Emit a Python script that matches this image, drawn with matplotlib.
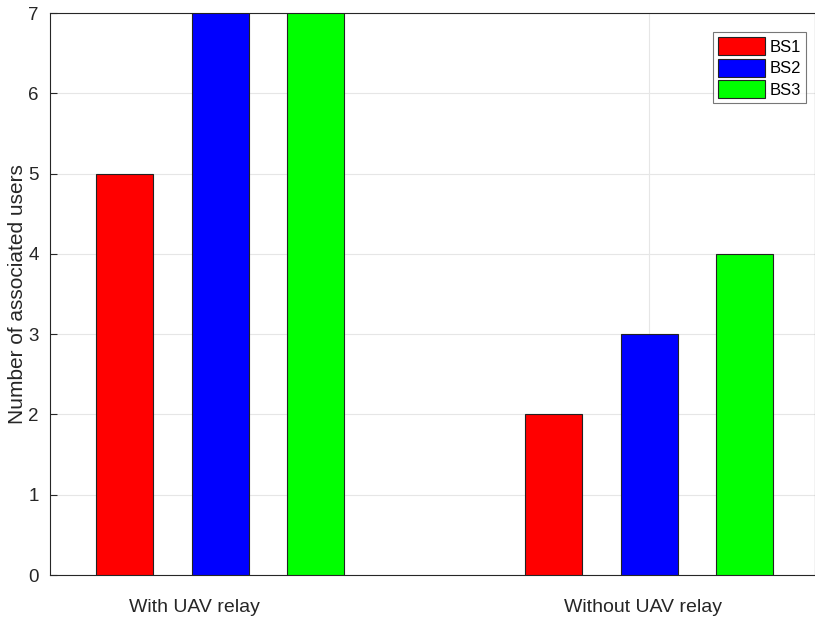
import matplotlib
matplotlib.use("Agg")
import matplotlib.pyplot as plt
import matplotlib.transforms as mtransforms
import numpy as np

plt.rcParams['font.family'] = ['Liberation Sans', 'DejaVu Sans']

groups = ["With UAV relay", "Without UAV relay"]
series = ["BS1", "BS2", "BS3"]
bs1 = [5, 2]
bs2 = [7, 3]
bs3 = [7, 4]
colors = ["#ff0000", "#0000ff", "#00ff00"]

fig = plt.figure(figsize=(8.15, 6.24), dpi=100)
ax = fig.add_axes([50 / 815, 1 - 575 / 624, 765 / 815, 562 / 624])

x = np.arange(1, len(groups) + 1)
offset = 0.2226
width = 0.133
for i, (vals, name, c) in enumerate(zip([bs1, bs2, bs3], series, colors)):
    ax.bar(x + (i - 1) * offset, vals, width, color=c, edgecolor="#222222",
           linewidth=0.8, label=name, zorder=3)

ax.set_xlim(0.603, 2.386)
ax.set_ylim(0, 7)
ax.set_xticks(x)
ax.set_xticklabels([])
ax.set_yticks(range(0, 8))
ax.tick_params(axis="y", direction="in", length=5, labelsize=13.5, colors="#262626",
               pad=8)
ax.tick_params(axis="x", length=0)
ax.set_ylabel("Number of associated users", fontsize=15, color="#262626")
ax.yaxis.set_label_coords(-0.030, 0.5)

# group labels sit slightly left of the group centres
label_x = [0.939, 1.985]
trans = mtransforms.blended_transform_factory(ax.transData, ax.transAxes)
for lx, g in zip(label_x, groups):
    ax.text(lx, -0.057, g, transform=trans, ha="center", va="center",
            fontsize=14, color="#262626")

ax.grid(True, color="#e6e6e6", linewidth=0.8, zorder=0)
ax.set_axisbelow(True)
for s in ["left", "bottom", "top", "right"]:
    ax.spines[s].set_color("#262626")
    ax.spines[s].set_linewidth(0.8)

leg = ax.legend(loc="upper right", bbox_to_anchor=(756 / 765, 0.966),
                fontsize=12, frameon=True, fancybox=False, edgecolor="#555555",
                handlelength=2.8, handleheight=1.3, handletextpad=0.3,
                borderpad=0.3, labelspacing=0.2, borderaxespad=0)
leg.get_frame().set_linewidth(0.8)

fig.savefig("out.png", dpi=100)
